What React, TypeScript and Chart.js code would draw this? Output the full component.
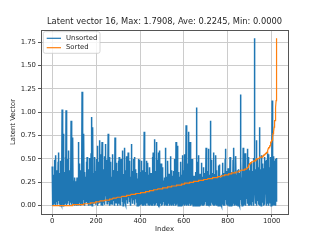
import { useEffect, useRef } from 'react';
import { Chart, registerables } from 'chart.js';

Chart.register(...registerables);

const chartTitle = 'Latent vector 16, Max: 1.7908, Ave: 0.2245, Min: 0.0000';
const xAxisTitle = 'Index';
const yAxisTitle = 'Latent Vector';
const seriesNames = ['Unsorted', 'Sorted'];
const xTickValues = [0, 200, 400, 600, 800, 1000];
const yTickValues = [0, 0.25, 0.5, 0.75, 1.0, 1.25, 1.5, 1.75];

// latent vector values, index 0..1023 (32 per row)
const latentValues: number[] = [
  .42,.03,.21,0,.15,.33,.08,.01,.26,.12,.49,.02,.18,.06,.54,.10,.29,0,.23,.14,.38,.04,.17,.31,.01,.20,.11,.47,.05,.57,.16,.27,
  .02,.19,.35,.07,0,.24,.13,.48,.03,.28,.09,.16,.01,1.03,.22,.05,.30,.12,0,.18,.77,.08,.25,.04,.36,.14,.01,.21,.52,.10,.02,1.02,
  .15,.31,0,.20,.07,.50,.11,.02,.26,.17,.05,.59,.13,.34,0,.22,.09,.38,.03,.19,.28,.06,.91,.14,.01,.24,.33,.08,.55,.12,.73,.04,
  .18,.01,.27,.10,.21,0,.16,.30,.05,.23,.12,.02,.26,.08,.19,0,.14,.30,.04,.22,.11,.28,.01,.17,.68,.09,.35,.03,.20,.45,.13,.06,
  .25,0,.38,.15,.07,.29,.02,.19,1.22,.10,.33,.01,.24,.12,.53,.06,.77,.17,0,.27,.09,.36,.14,.03,.21,.31,.08,.18,.47,.04,.11,.52,
  .13,.02,.26,.39,.07,.20,0,.32,.15,.05,.51,.11,.23,.01,.17,.28,.09,.56,.04,.95,.14,.30,0,.22,.12,.84,.06,.35,.18,.02,.25,.10,
  .29,.03,.52,.16,.08,.37,.01,.21,.12,.50,.05,.27,.19,.64,0,.24,.10,.33,.15,.02,.47,.07,.22,.13,.31,.70,.04,.18,.26,.09,.55,.01,
  .20,.11,.34,.68,.06,.25,0,.17,.39,.13,.03,.29,.22,.08,.53,.15,.01,.27,.66,.10,.19,.32,.05,.23,.14,.49,.02,.18,.30,.09,.24,.77,
  .12,.28,.04,.21,.36,0,.16,.52,.09,.26,.14,.47,.02,.19,.31,.07,.23,.11,.55,.01,.17,.34,.13,.05,.27,.20,.38,.08,.15,0,.73,.22,
  .10,.33,.18,.03,.26,.46,.06,.21,.14,0,.29,.37,.11,.48,.02,.24,.16,.52,.08,.30,.19,.01,.35,.12,.25,.05,.50,.17,.09,.28,.22,.04,
  .59,.13,.27,0,.20,.34,.07,.18,.40,.10,.25,.62,.03,.22,.15,.38,.01,.29,.11,.53,.06,.19,.32,.14,.24,.02,.57,.16,.09,.36,.21,.04,
  .26,.12,.48,.05,.19,.31,0,.23,.14,.66,.08,.28,.17,.37,.02,.21,.10,.50,.15,.33,.06,.24,.52,.11,.01,.27,.18,.39,.07,.22,.30,.13,
  .03,.25,.35,0,.09,.29,.01,0,.50,.12,.32,.04,.05,.49,.18,0,.27,.01,.36,.21,.10,.02,.15,.48,.07,.24,0,.38,.04,.16,.13,.33,
  .17,.28,0,.79,.02,.01,.31,.14,.36,0,.25,0,.19,.34,.48,.06,.03,.15,.29,.10,.46,.01,.21,.05,.13,.33,0,.05,.24,.41,.08,.30,
  .20,.01,.35,.04,.26,0,.31,.09,.13,.52,0,.28,.57,.18,.02,.33,.06,.11,.39,.71,0,.27,.01,.37,.21,.12,.03,.68,.17,.08,.49,0,
  .14,.32,.01,.57,.23,0,.36,0,.28,.05,.59,.10,.26,.02,.20,.03,.45,0,.29,.12,.24,.08,.41,.01,.33,.16,.05,.27,.04,.13,.22,.30,
  .18,0,.27,.09,.35,.62,.01,.21,.13,0,.31,.04,.24,.16,0,.48,.07,.19,.02,.29,.11,.34,0,.22,.05,.15,.53,.01,.26,.10,.38,.03,
  .23,0,.32,.14,.06,.28,.01,.20,.37,.09,0,.25,.17,.50,.02,.12,.30,0,.19,.05,.68,.15,.26,.01,.34,.08,.21,.03,.64,.13,0,.29,
  .11,.36,0,.22,.16,.04,.31,.01,.25,.09,.47,0,.18,.27,.06,.33,.13,0,.21,.54,.02,.29,.15,.38,.07,.24,0,.19,.55,.10,.01,.28,
  .20,.03,.86,.14,.30,0,.23,.08,.45,.01,.17,.26,.05,.79,.12,0,.33,.19,.02,.24,.68,.09,.29,0,.16,.50,.06,.22,.01,.35,.11,.27,
  .50,.13,0,.25,.18,.04,.32,.09,.01,.28,.21,0,.36,.15,.07,.24,.02,.30,1.05,.11,0,.19,.47,.05,.26,.14,.01,.54,.17,0,.31,.10,
  .22,.03,.34,.12,0,.27,.19,.06,.46,.01,.15,.25,0,.31,.09,.20,.02,.14,.41,0,.23,.35,.07,.17,.01,.29,.11,.04,.26,.62,0,.18,
  .30,.08,.21,0,.37,.14,.02,.25,.16,.61,.01,.28,.10,0,.33,.19,.91,.05,.23,0,.49,.12,.27,.03,.18,.35,.01,.22,.09,.31,0,.15,
  .57,.11,.26,0,.20,.34,.04,.17,.01,.29,.54,.13,0,.24,.38,.07,.21,.02,.31,.15,0,.27,.43,.10,.19,.01,.44,.23,.06,0,.30,.14,
  .25,.02,.33,.18,0,.28,.09,.45,.01,.46,.16,.22,0,.35,.12,.27,.04,.31,.19,0,.50,.14,.61,.06,.24,.01,.37,.20,.10,.29,0,.33,
  .17,.40,.03,.26,.12,.38,0,.30,.21,.08,.52,.01,.24,.15,.34,0,.28,.19,.05,.36,.23,0,.31,.11,.49,.02,.26,.17,.62,.07,.32,0,
  .22,.36,.09,.28,.01,.53,.16,.25,0,.33,.13,.38,.04,.21,.29,0,.39,.18,.27,.02,.35,.11,.24,0,.31,.15,1.19,.06,.48,.20,.01,.30,
  .26,0,.37,.14,.32,.03,.62,.19,.28,0,.47,.10,.34,.22,.01,.56,.17,.30,0,.36,.24,.07,.39,.13,.29,.61,.02,.33,.20,0,.52,.25,
  .31,.08,.38,.21,0,.35,.16,.27,.45,.01,.33,.23,.12,.46,0,.29,.18,.37,.04,.26,.51,.14,.32,0,.24,.36,1.7908,.19,.30,.02,.39,.22,
  .34,.11,.27,.70,0,.38,.20,.31,.05,.50,.25,.01,.36,.15,.29,.41,0,.84,.22,.33,.09,.39,.18,.28,0,.54,.26,.13,.35,.45,.03,.30,
  .24,.40,0,.32,.17,.37,.06,.28,.52,.01,.35,.21,.48,.12,.30,0,.49,.25,.36,.08,.33,.19,.56,.02,.27,.39,0,.55,.23,.34,.14,.41,
  .29,.03,.38,.20,.52,0,.33,.26,.42,.11,1.125,.31,0,.37,.22,.53,.07,.35,.28,.01,.40,.48,.16,.34,0,.50,.25,.38,.05,.32,.51,.30,
];

const sortedValues = [...latentValues].sort((a, b) => a - b);

const FONT = '"DejaVu Sans", sans-serif';
const TEXT = '#262626';
const SERIES_COLORS = ['#1f77b4', '#ff7f0e'];

const titleFrameLegend = {
  id: 'titleFrameLegend',
  afterDatasetsDraw(chart: any) {
    const { ctx, chartArea: a } = chart;
    ctx.save();
    // axes frame
    ctx.strokeStyle = '#555555';
    ctx.lineWidth = 1;
    const l = Math.floor(a.left) + 0.5;
    const t = Math.floor(a.top) + 0.5;
    const r = Math.floor(a.right) + 0.5;
    const b = Math.floor(a.bottom) + 0.5;
    ctx.strokeRect(l, t, r - l, b - t);

    // title centred over the plot area
    ctx.fillStyle = TEXT;
    ctx.font = `8.3px ${FONT}`;
    ctx.textAlign = 'center';
    ctx.textBaseline = 'middle';
    ctx.fillText(chartTitle, (a.left + a.right) / 2, a.top - 8.3);

    // legend
    const bx = a.left + 2.3;
    const by = a.top + 1.7;
    const bw = 56.7;
    const bh = 21.6;
    ctx.beginPath();
    if (ctx.roundRect) ctx.roundRect(bx, by, bw, bh, 2);
    else ctx.rect(bx, by, bw, bh);
    ctx.fillStyle = 'rgba(255,255,255,0.8)';
    ctx.fill();
    ctx.strokeStyle = '#cccccc';
    ctx.lineWidth = 0.8;
    ctx.stroke();
    ctx.font = `6.9px ${FONT}`;
    ctx.textBaseline = 'middle';
    ctx.textAlign = 'left';
    seriesNames.forEach((name, i) => {
      const y = by + 6.6 + i * 9.4;
      ctx.strokeStyle = SERIES_COLORS[i];
      ctx.lineWidth = 1.2;
      ctx.beginPath();
      ctx.moveTo(bx + 3.4, y);
      ctx.lineTo(bx + 17.7, y);
      ctx.stroke();
      ctx.fillStyle = TEXT;
      ctx.fillText(name, bx + 22.7, y);
    });
    ctx.restore();
  },
};

export default function App() {
  const ref = useRef<HTMLCanvasElement>(null);

  useEffect(() => {
    const canvas = ref.current;
    if (!canvas) return;
    const chart = new Chart(canvas, {
      type: 'line',
      data: {
        datasets: [
          {
            label: seriesNames[0],
            data: latentValues.map((v, i) => ({ x: i, y: v })),
            borderColor: SERIES_COLORS[0],
            backgroundColor: SERIES_COLORS[0],
            borderWidth: 1.5,
            pointRadius: 0,
            fill: false,
            tension: 0,
            order: 2,
          },
          {
            label: seriesNames[1],
            data: sortedValues.map((v, i) => ({ x: i, y: v })),
            borderColor: SERIES_COLORS[1],
            backgroundColor: SERIES_COLORS[1],
            borderWidth: 1.2,
            pointRadius: 0,
            fill: false,
            tension: 0,
            order: 1,
          },
        ],
      },
      options: {
        animation: false,
        responsive: false,
        events: [],
        layout: { padding: { left: 0, right: 32, top: 30, bottom: 0 } },
        plugins: {
          legend: { display: false },
          tooltip: { enabled: false },
          title: { display: false },
        },
        scales: {
          x: {
            type: 'linear',
            min: -51.15,
            max: 1074.15,
            afterBuildTicks: (axis: any) => {
              axis.ticks = xTickValues.map((v) => ({ value: v }));
            },
            afterFit: (scale: any) => {
              scale.height = 26;
            },
            ticks: {
              color: TEXT,
              font: { family: FONT, size: 6.9 },
              padding: 0,
              maxRotation: 0,
              autoSkip: false,
              callback: (v: any) => String(v),
            },
            grid: { color: '#cccccc', lineWidth: 1, drawTicks: true, tickLength: 3, tickColor: '#555555' },
            border: { display: false },
            title: {
              display: true,
              text: xAxisTitle,
              color: TEXT,
              font: { family: FONT, size: 6.9 },
              padding: { top: 0, bottom: 7 },
            },
          },
          y: {
            type: 'linear',
            min: -0.08954,
            max: 1.88034,
            afterBuildTicks: (axis: any) => {
              axis.ticks = yTickValues.map((v) => ({ value: v }));
            },
            afterFit: (scale: any) => {
              scale.width = 41;
            },
            ticks: {
              color: TEXT,
              font: { family: FONT, size: 6.9 },
              padding: 2,
              autoSkip: false,
              callback: (v: any) => Number(v).toFixed(2),
            },
            grid: { color: '#cccccc', lineWidth: 1, drawTicks: true, tickLength: 3, tickColor: '#555555' },
            border: { display: false },
            title: {
              display: true,
              text: yAxisTitle,
              color: TEXT,
              font: { family: FONT, size: 6.9 },
              padding: { top: 9, bottom: 0 },
            },
          },
        },
      } as any,
      plugins: [titleFrameLegend],
    });
    return () => chart.destroy();
  }, []);

  return (
    <div style={{ position: 'absolute', left: 0, top: 0, width: 320, height: 240, background: '#ffffff' }}>
      <canvas ref={ref} width={320} height={240} style={{ display: 'block', width: 320, height: 240 }} />
    </div>
  );
}
